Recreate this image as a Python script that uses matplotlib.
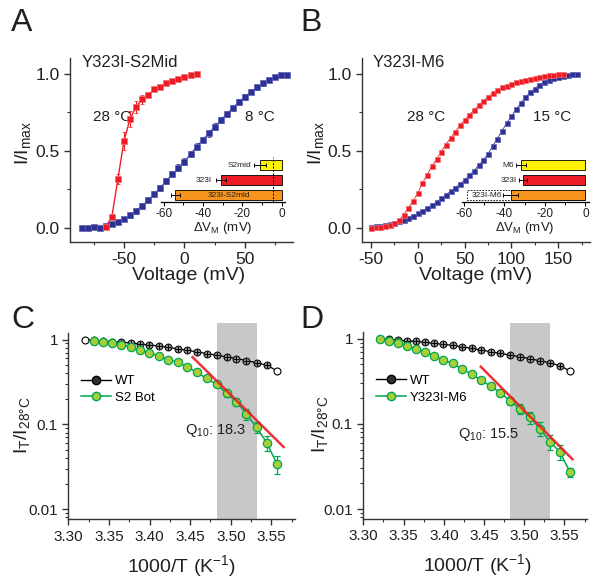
import matplotlib
matplotlib.use("Agg")
import matplotlib.pyplot as plt
from matplotlib.lines import Line2D
from matplotlib.ticker import MultipleLocator, FixedLocator, LogLocator, NullFormatter, FuncFormatter

plt.rcParams['font.family'] = ['Liberation Sans', 'DejaVu Sans']
plt.rcParams['mathtext.fontset'] = 'custom'
plt.rcParams['mathtext.rm'] = 'Liberation Sans'
plt.rcParams['mathtext.it'] = 'Liberation Sans'
plt.rcParams['axes.unicode_minus'] = False

# ---------------- data ----------------
# Panel A: Y323I-S2Mid G-V
A_v28 = [-65, -60, -55, -50, -45, -40, -35, -30, -25, -20, -15, -10, -5, 0, 5, 10]
A_g28 = [0.007, 0.072, 0.317, 0.564, 0.707, 0.787, 0.835, 0.863, 0.900, 0.918, 0.939, 0.957, 0.970, 0.983, 0.993, 1.0]
A_e28 = [0.005, 0.01, 0.03, 0.06, 0.05, 0.04, 0.03, 0.015, 0.01, 0.01, 0.008, 0.006, 0.005, 0.004, 0.003, 0.0]
A_v8 = [-85, -80, -75, -70, -65, -60, -55, -50, -45, -40, -35, -30, -25, -20, -15, -10, -5, 0,
        5, 10, 15, 20, 25, 30, 35, 40, 45, 50, 55, 60, 65, 70, 75, 80, 85]
A_g8 = [0.0, 0.0, 0.002, 0.0, 0.01, 0.024, 0.04, 0.058, 0.082, 0.11, 0.143, 0.18, 0.219, 0.26, 0.304,
        0.349, 0.39, 0.43, 0.479, 0.527, 0.57, 0.614, 0.657, 0.70, 0.74, 0.78, 0.82, 0.852, 0.885,
        0.913, 0.939, 0.961, 0.978, 0.991, 0.996]
A_e8 = [0.004, 0.004, 0.005, 0.005, 0.008, 0.01, 0.012, 0.014, 0.016, 0.018, 0.02, 0.02, 0.02, 0.02,
        0.02, 0.02, 0.022, 0.022, 0.022, 0.022, 0.022, 0.022, 0.022, 0.022, 0.022, 0.02, 0.02, 0.02,
        0.018, 0.016, 0.014, 0.012, 0.01, 0.008, 0.006]

# Panel B: Y323I-M6 G-V
B_v28 = [-50, -45, -40, -35, -30, -25, -20, -15, -10, -5, 0, 5, 10, 15, 20, 25, 30, 35, 40, 45, 50,
         55, 60, 65, 70, 75, 80, 85, 90, 95, 100, 105, 110, 115, 120, 125, 130, 135, 140, 145, 150, 155]
B_g28 = [0.0, 0.002, 0.005, 0.010, 0.017, 0.030, 0.050, 0.085, 0.130, 0.175, 0.225, 0.290, 0.345,
         0.400, 0.445, 0.495, 0.540, 0.585, 0.625, 0.665, 0.700, 0.735, 0.765, 0.795, 0.825, 0.850,
         0.875, 0.895, 0.915, 0.925, 0.935, 0.945, 0.955, 0.962, 0.970, 0.977, 0.983, 0.988, 0.992,
         0.995, 0.998, 1.0]
B_v15 = [-50, -45, -40, -35, -30, -25, -20, -15, -10, -5, 0, 5, 10, 15, 20, 25, 30, 35, 40, 45, 50,
         55, 60, 65, 70, 75, 80, 85, 90, 95, 100, 105, 110, 115, 120, 125, 130, 135, 140, 145, 150,
         155, 160, 165, 170]
B_g15 = [0.005, 0.008, 0.012, 0.017, 0.023, 0.032, 0.042, 0.052, 0.065, 0.078, 0.093, 0.11, 0.128,
         0.147, 0.167, 0.19, 0.213, 0.237, 0.26, 0.285, 0.31, 0.34, 0.37, 0.405, 0.44, 0.48, 0.53,
         0.58, 0.63, 0.68, 0.725, 0.77, 0.81, 0.85, 0.88, 0.905, 0.93, 0.948, 0.963, 0.975, 0.983,
         0.99, 0.995, 0.998, 1.0]

# Insets: delta V_M (mV)
A_bar_names = ["323I-S2mid", "323I", "S2mid"]
A_bar_vals = [-54.0, -31.0, -11.0]
A_bar_errs = [2.5, 2.5, 3.0]
A_bar_colors = ["#f7941d", "#ed1c24", "#fff200"]
A_dash_x = -4.5
B_bar_names = ["323I-M6", "323I", "M6"]
B_bar_vals = [-37.0, -31.0, -32.0]
B_bar_errs = [3.5, 2.0, 2.5]
B_bar_colors = ["#f7941d", "#ed1c24", "#fff200"]
B_pred = -58.5

# Panels C, D: 1000/T (28 -> 8 C)
invT = [3.3206, 3.3317, 3.3428, 3.3540, 3.3653, 3.3767, 3.3881, 3.3996, 3.4112, 3.4229, 3.4347,
        3.4465, 3.4584, 3.4704, 3.4825, 3.4947, 3.5069, 3.5193, 3.5317, 3.5442, 3.5568]
C_wt = [1.0, 0.982, 0.964, 0.947, 0.930, 0.914, 0.889, 0.865, 0.842, 0.812, 0.777, 0.749, 0.716,
        0.684, 0.654, 0.625, 0.598, 0.566, 0.532, 0.499, 0.428]
C_mut = [0.964, 0.939, 0.914, 0.873, 0.820, 0.763, 0.703, 0.637, 0.582, 0.541, 0.477, 0.409, 0.348,
         0.296, 0.232, 0.185, 0.132, 0.092, 0.061, 0.034]
C_mut_err = [0.01, 0.01, 0.01, 0.01, 0.012, 0.012, 0.012, 0.012, 0.012, 0.012, 0.012, 0.014, 0.015,
             0.02, 0.02, 0.02, 0.018, 0.014, 0.012, 0.008]
C_fit_x = [3.453, 3.565]
C_fit_y = [0.62, 0.054]
D_wt = [1.0, 0.982, 0.964, 0.947, 0.930, 0.905, 0.881, 0.858, 0.835, 0.805, 0.770, 0.736, 0.703,
        0.672, 0.643, 0.614, 0.582, 0.551, 0.522, 0.481, 0.420]
D_mut = [1.0, 0.930, 0.897, 0.827, 0.763, 0.697, 0.631, 0.561, 0.513, 0.440, 0.383, 0.326, 0.277,
         0.232, 0.187, 0.150, 0.119, 0.088, 0.062, 0.047, 0.027]
D_mut_err = [0.0, 0.01, 0.01, 0.01, 0.01, 0.01, 0.01, 0.012, 0.012, 0.012, 0.014, 0.015, 0.018,
             0.02, 0.022, 0.02, 0.018, 0.016, 0.012, 0.009, 0.003]
D_fit_x = [3.446, 3.560]
D_fit_y = [0.469, 0.0384]
band = [3.4825, 3.5317]

# ---------------- style ----------------
TXT = '#231f20'
RED = '#ed1c24'
BLUE = '#2e3192'
GREEN = '#00a651'
LGREEN = '#a6ce39'

fig = plt.figure(figsize=(6, 5.84), dpi=100)


def px_axes(l, r, t, b):
    return fig.add_axes([l / 600, 1 - b / 584, (r - l) / 600, (b - t) / 584])


def style(ax, tsize):
    for s in ['top', 'right']:
        ax.spines[s].set_visible(False)
    for s in ['left', 'bottom']:
        ax.spines[s].set_linewidth(1.0)
        ax.spines[s].set_color('#333333')
    ax.tick_params(which='major', direction='out', length=4, width=1, labelsize=tsize,
                   colors='#333333', labelcolor=TXT)
    ax.tick_params(which='minor', direction='out', length=2.5, width=0.8, colors='#333333')


# ---- Panel A ----
axA = px_axes(70, 293, 58, 242)
style(axA, 12.5)
axA.set_xlim(-94.6, 89.7)
axA.set_ylim(-0.093, 1.104)
axA.xaxis.set_major_locator(FixedLocator([-50, 0, 50]))
axA.xaxis.set_minor_locator(FixedLocator([-75, -25, 25, 75]))
axA.yaxis.set_major_locator(FixedLocator([0.0, 0.5, 1.0]))
axA.yaxis.set_minor_locator(FixedLocator([0.25, 0.75]))
axA.yaxis.set_major_formatter(FuncFormatter(lambda v, p: f"{v:.1f}"))
axA.errorbar(A_v8, A_g8, yerr=A_e8, color=BLUE, lw=0.8, marker='s', ms=4, mfc=BLUE, mec='#5a60b8',
             mew=0.5, ecolor=BLUE, elinewidth=0.8, capsize=1.5, zorder=3)
axA.errorbar(A_v28, A_g28, yerr=A_e28, color=RED, lw=1.0, marker='s', ms=4, mfc=RED, mec='#f06a6e',
             mew=0.5, ecolor=RED, elinewidth=0.8, capsize=1.5, zorder=4)
axA.set_xlabel('Voltage (mV)', fontsize=14, color=TXT)
axA.set_ylabel('I/I$_{\\rm max}$', fontsize=14, color=TXT)
axA.xaxis.set_label_coords(0.53, -0.135)
axA.yaxis.set_label_coords(-0.165, 0.54)
axA.text(-84.7, 1.0 + 0.075, 'Y323I-S2Mid', fontsize=12, color=TXT, va='center', ha='left')
axA.text(-75.8, 0.72, '28 °C', fontsize=11, color=TXT, va='center', ha='left')
axA.text(50, 0.72, '8 °C', fontsize=11, color=TXT, va='center', ha='left')

# ---- Panel B ----
axB = px_axes(362, 590, 58, 242)
style(axB, 12.5)
axB.set_xlim(-59.6, 184)
axB.set_ylim(-0.093, 1.104)
axB.xaxis.set_major_locator(FixedLocator([-50, 0, 50, 100, 150]))
axB.xaxis.set_minor_locator(FixedLocator([-25, 25, 75, 125, 175]))
axB.yaxis.set_major_locator(FixedLocator([0.0, 0.5, 1.0]))
axB.yaxis.set_minor_locator(FixedLocator([0.25, 0.75]))
axB.yaxis.set_major_formatter(FuncFormatter(lambda v, p: f"{v:.1f}"))
axB.plot(B_v15, B_g15, color=BLUE, lw=0.6, marker='s', ms=3.6, mfc=BLUE, mec='#5a60b8', mew=0.5, zorder=3)
axB.plot(B_v28, B_g28, color=RED, lw=0.6, marker='s', ms=3.6, mfc=RED, mec='#f06a6e', mew=0.5, zorder=4)
axB.set_xlabel('Voltage (mV)', fontsize=14, color=TXT)
axB.set_ylabel('I/I$_{\\rm max}$', fontsize=14, color=TXT)
axB.xaxis.set_label_coords(0.5, -0.135)
axB.yaxis.set_label_coords(-0.158, 0.54)
axB.text(-47.8, 1.0 + 0.075, 'Y323I-M6', fontsize=12, color=TXT, va='center', ha='left')
axB.text(-11.5, 0.72, '28 °C', fontsize=11, color=TXT, va='center', ha='left')
axB.text(123, 0.72, '15 °C', fontsize=11, color=TXT, va='center', ha='left')


# ---- Insets ----
def inset(l, r, names, vals, errs, colors, labels_cfg, pred=None, dash=None):
    ax = px_axes(l, r, 157, 201.5)
    ax.patch.set_alpha(0)
    for s in ['top', 'right', 'left']:
        ax.spines[s].set_visible(False)
    ax.spines['bottom'].set_linewidth(0.9)
    ax.set_xlim(-61.2, 1.5)
    ax.set_ylim(-0.4, 2.55)
    ax.set_yticks([])
    ax.xaxis.set_major_locator(FixedLocator([-60, -40, -20, 0]))
    ax.xaxis.set_minor_locator(FixedLocator([-50, -30, -10]))
    ax.tick_params(which='major', direction='out', length=3, width=0.8, labelsize=8.5, pad=1.5,
                   labelcolor=TXT)
    ax.tick_params(which='minor', direction='out', length=1.8, width=0.7)
    ys = [0, 1, 2]
    if pred is not None:
        ax.barh(0, pred, height=0.66, left=0, color='white', edgecolor='black', lw=0.6, ls=(0, (2, 1.5)),
                zorder=1)
    ax.barh(ys, vals, height=0.66, left=0, color=colors, edgecolor='black', lw=0.6, zorder=2)
    ax.errorbar(vals, ys, xerr=errs, fmt='none', ecolor='black', elinewidth=0.7, capsize=1.5,
                capthick=0.7, zorder=3)
    if dash is not None:
        ax.axvline(dash, color='black', lw=0.7, ls=(0, (2, 1.5)), zorder=4)
    for (x, y, txt, ha) in labels_cfg:
        ax.text(x, y, txt, fontsize=6, ha=ha, va='center', color=TXT, zorder=5)
    ax.set_xlabel('ΔV$_{\\rm M}$ (mV)', fontsize=9.5, color=TXT, labelpad=0)
    return ax


inset(161.3, 284.7, A_bar_names, A_bar_vals, A_bar_errs, A_bar_colors,
      [(-15.5, 2, A_bar_names[2], 'right'), (-35.5, 1, A_bar_names[1], 'right'),
       (-27, 0, A_bar_names[0], 'center')], dash=A_dash_x)
inset(461.5, 588.5, B_bar_names, B_bar_vals, B_bar_errs, B_bar_colors,
      [(-35.5, 2, B_bar_names[2], 'right'), (-34, 1, B_bar_names[1], 'right'),
       (-48.5, 0, B_bar_names[0], 'center')], pred=B_pred)


# ---- Panels C, D ----
def arrh(ax, wt, mut_x, mut, mut_err, fit_x, fit_y, name, q10, q10xy, ymin, ymax):
    style(ax, 11)
    ax.set_yscale('log')
    ax.set_xlim(3.30, 3.579)
    ax.set_ylim(ymin, ymax)
    ax.spines['left'].set_bounds(ymin, 1.19)
    ax.xaxis.set_major_locator(MultipleLocator(0.05))
    ax.xaxis.set_minor_locator(MultipleLocator(0.025))
    ax.xaxis.set_major_formatter(FuncFormatter(lambda v, p: f"{v:.2f}"))
    ax.yaxis.set_major_locator(FixedLocator([0.01, 0.1, 1]))
    ax.yaxis.set_major_formatter(FuncFormatter(lambda v, p: {0.01: '0.01', 0.1: '0.1', 1: '1'}.get(round(v, 3), '')))
    ax.yaxis.set_minor_locator(LogLocator(base=10, subs=[2, 3, 4, 5, 6, 7, 8, 9]))
    ax.yaxis.set_minor_formatter(NullFormatter())
    ax.axvspan(band[0], band[1], color='#c8c8c8', lw=0, zorder=0)
    # WT
    ax.plot(invT, wt, color='black', lw=0.9, zorder=2)
    ax.plot(invT[1:-1], wt[1:-1], ls='none', marker='o', ms=5, mfc='#8c8c8c', mec='black', mew=0.7, zorder=3)
    ax.plot(invT[1:-1], wt[1:-1], ls='none', marker='+', ms=5, mec='black', mew=0.7, zorder=3.5)
    ax.plot([invT[0], invT[-1]], [wt[0], wt[-1]], ls='none', marker='o', ms=5, mfc='white', mec='black',
            mew=0.8, zorder=3)
    # mutant
    ax.errorbar(mut_x, mut, yerr=mut_err, color=GREEN, lw=1.1, marker='o', ms=6, mfc=LGREEN, mec=GREEN,
                mew=0.9, ecolor=GREEN, elinewidth=0.9, capsize=2, capthick=0.9, zorder=4)
    ax.plot(fit_x, fit_y, color=RED, lw=1.8, zorder=5, alpha=0.9)
    ax.text(q10xy[0], q10xy[1], q10, fontsize=10.5, color=TXT, ha='left', va='center', zorder=6)
    h_wt = Line2D([], [], color='black', lw=1, marker='o', ms=6, mfc='#303030', mec='black')
    h_mut = Line2D([], [], color=GREEN, lw=1.1, marker='o', ms=6, mfc=LGREEN, mec=GREEN)
    ax.legend([h_wt, h_mut], ['WT', name], loc='upper left', bbox_to_anchor=(0.055, 0.735), frameon=False,
              fontsize=9.5, handlelength=2.3, handletextpad=0.3, borderaxespad=0, borderpad=0,
              labelspacing=0.35)
    ax.set_xlabel('1000/T (K$^{-1}$)', fontsize=14, color=TXT)
    ax.set_ylabel('I$_{\\rm T}$/I$_{\\rm 28°C}$', fontsize=14, color=TXT)


axC = px_axes(68.3, 295, 323, 519.3)
arrh(axC, C_wt, invT[1:], C_mut, C_mut_err, C_fit_x, C_fit_y, 'S2 Bot', 'Q$_{10}$: 18.3', (3.444, 0.0857),
     0.00757, 1.57)
axC.xaxis.set_label_coords(0.5, -0.17)
axC.yaxis.set_label_coords(-0.16, 0.48)

axD = px_axes(363.3, 587, 323, 518.5)
arrh(axD, D_wt, invT, D_mut, D_mut_err, D_fit_x, D_fit_y, 'Y323I-M6', 'Q$_{10}$: 15.5', (3.418, 0.0741),
     0.00774, 1.53)
axD.set_xlim(3.30, 3.578)
axD.xaxis.set_label_coords(0.51, -0.17)
axD.yaxis.set_label_coords(-0.15, 0.48)

# Panel letters
for (x, y, t) in [(11, 8, 'A'), (300, 8, 'B'), (11, 305, 'C'), (300, 305, 'D')]:
    fig.text(x / 600, 1 - y / 584, t, fontsize=23, color=TXT, ha='left', va='top')

fig.savefig('out.png', dpi=100)
